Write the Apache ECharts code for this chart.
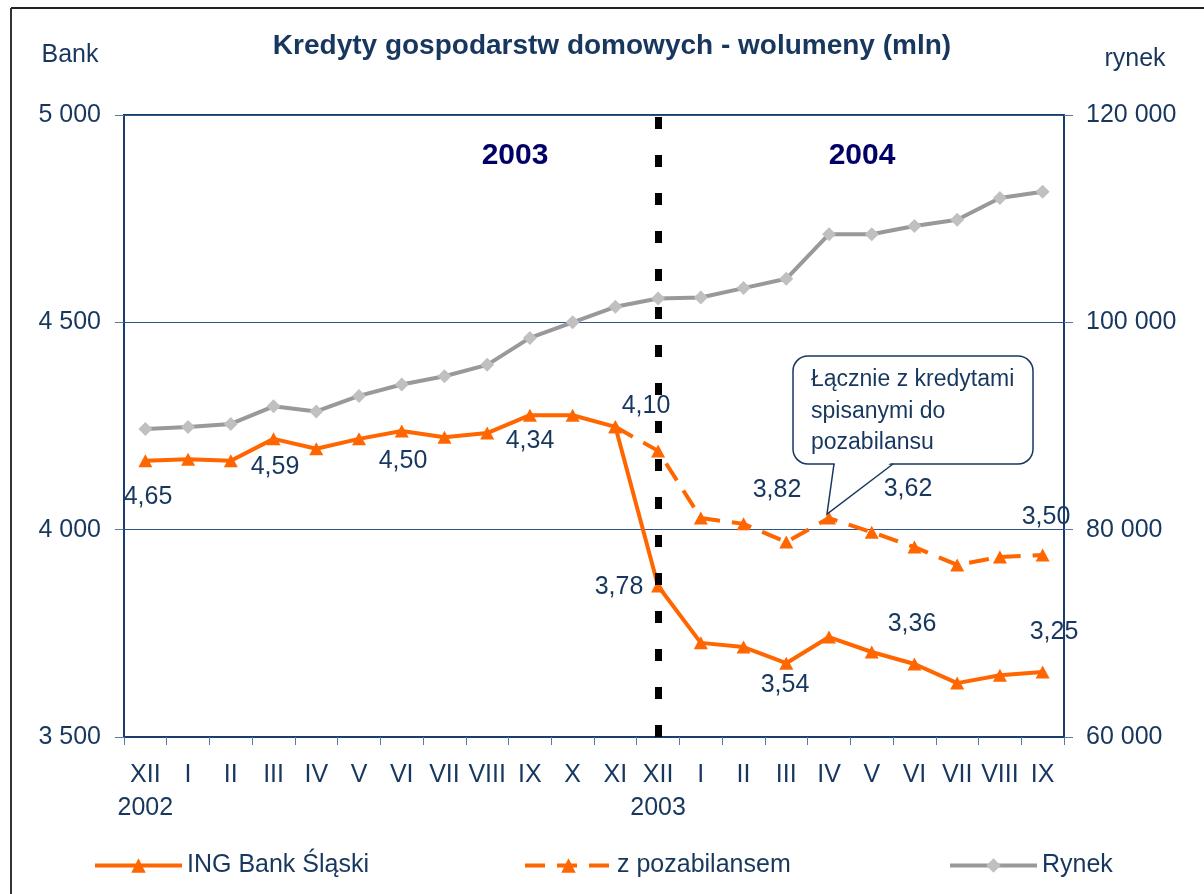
<!DOCTYPE html>
<html>
<head>
<meta charset="utf-8">
<script src="https://cdn.jsdelivr.net/npm/echarts@6/dist/echarts.min.js"></script>
<style>
html, body { margin: 0; padding: 0; background: #fff; }
#chart { width: 1204px; height: 894px; }
</style>
</head>
<body>
<div id="chart"></div>
<script>
// dane
var months = ['XII\n2002', 'I', 'II', 'III', 'IV', 'V', 'VI', 'VII', 'VIII', 'IX', 'X', 'XI',
	'XII\n2003', 'I', 'II', 'III', 'IV', 'V', 'VI', 'VII', 'VIII', 'IX'];
var ingBank = [4166, 4170, 4166, 4219, 4195, 4219, 4238, 4223, 4233, 4276, 4276, 4248,
	3864, 3727, 3717, 3678, 3741, 3705, 3676, 3630, 3649, 3657];
var zPozabilansem = [null, null, null, null, null, null, null, null, null, null, null, 4248,
	4190, 4028, 4014, 3970, 4028, 3994, 3958, 3915, 3934, 3939];
var rynek = [89700, 89900, 90200, 91900, 91400, 92900, 94000, 94800, 95900, 98500, 100000, 101500,
	102300, 102400, 103300, 104200, 108500, 108500, 109300, 109900, 112000, 112600];
var shareLabels = ['4,65', '4,59', '4,50', '4,34', '4,10', '3,78', '3,82', '3,54', '3,62', '3,36', '3,50', '3,25'];
var calloutLines = ['Łącznie z kredytami', 'spisanymi do', 'pozabilansu'];

var navy = '#17375e',
	font = "'Liberation Sans', Arial, sans-serif",
	orange = '#ff6600';

// polozenie etykiet udzialow (px)
var sharePos = [[148, 497], [275, 467], [403, 461], [530, 441], [646, 406], [619, 587],
	[777, 490], [785, 685], [908, 489], [912, 624], [1046, 517], [1054, 632]];

var fmt = function(v){
	return String(v).replace(/\B(?=(\d{3})+(?!\d))/g, ' ');
};

var graphics = [
	{type: 'line', shape: {x1: 11, y1: 8, x2: 1204, y2: 8}, style: {stroke: '#222', lineWidth: 2}},
	{type: 'line', shape: {x1: 11, y1: 8, x2: 11, y2: 894}, style: {stroke: '#333', lineWidth: 2}},
	{type: 'text', x: 612, y: 46, style: {text: 'Kredyty gospodarstw domowych - wolumeny (mln)', fill: navy,
		font: 'bold 28px ' + font, textAlign: 'center', textVerticalAlign: 'middle'}},
	{type: 'text', x: 70, y: 55, style: {text: 'Bank', fill: navy, font: '25px ' + font,
		textAlign: 'center', textVerticalAlign: 'middle'}},
	{type: 'text', x: 1135, y: 59, style: {text: 'rynek', fill: navy, font: '25px ' + font,
		textAlign: 'center', textVerticalAlign: 'middle'}},
	{type: 'text', x: 515, y: 156, style: {text: '2003', fill: '#000066', font: 'bold 30px ' + font,
		textAlign: 'center', textVerticalAlign: 'middle'}},
	{type: 'text', x: 862, y: 156, style: {text: '2004', fill: '#000066', font: 'bold 30px ' + font,
		textAlign: 'center', textVerticalAlign: 'middle'}},
	// dymek
	{type: 'rect', z: 20, shape: {x: 793, y: 356, width: 240, height: 108, r: 15},
		style: {fill: '#fff', stroke: navy, lineWidth: 1.5}},
	{type: 'polygon', z: 20, shape: {points: [[835, 462], [892, 462], [827, 514]]},
		style: {fill: '#fff'}},
	{type: 'polyline', z: 20, shape: {points: [[834, 464], [827, 514], [893, 464]]},
		style: {stroke: navy, lineWidth: 1.5, fill: null}}
];
for(var i = 0; i < calloutLines.length; i++){
	graphics.push({type: 'text', z: 21, x: 811, y: 380 + i * 31.5, style: {text: calloutLines[i], fill: navy,
		font: '23px ' + font, textAlign: 'left', textVerticalAlign: 'middle'}});
}
for(var i = 0; i < shareLabels.length; i++){
	graphics.push({type: 'text', z: 21, x: sharePos[i][0], y: sharePos[i][1], style: {text: shareLabels[i], fill: navy,
		font: '25px ' + font, textAlign: 'center', textVerticalAlign: 'middle'}});
}

var legendItem = function(name, left){
	return {
		data: [name], left: left, top: 848, itemWidth: 87, itemHeight: 18, itemGap: 0,
		lineStyle: {width: 4},
		textStyle: {color: navy, fontSize: 25, fontFamily: font}
	};
};

var option = {
	animation: false,
	backgroundColor: '#fff',
	grid: {left: 124, right: 140, top: 115, bottom: 157, show: true, borderColor: '#1a3d6d', borderWidth: 2},
	legend: [legendItem('ING Bank Śląski', 88), legendItem('z pozabilansem', 518), legendItem('Rynek', 943)],
	xAxis: {
		type: 'category',
		data: months,
		axisLine: {lineStyle: {color: '#1a3d6d', width: 2}},
		axisTick: {show: true, length: 8, lineStyle: {color: '#5a7aa0', width: 1}},
		axisLabel: {interval: 0, margin: 22, color: navy, fontSize: 25, lineHeight: 33, fontFamily: font}
	},
	yAxis: [{
		type: 'value', min: 3500, max: 5000, interval: 500, position: 'left',
		axisLine: {show: true, lineStyle: {color: '#1a3d6d', width: 2}},
		axisTick: {show: true, length: 9, lineStyle: {color: '#5a7aa0'}},
		axisLabel: {margin: 23, color: navy, fontSize: 25, fontFamily: font, formatter: fmt},
		splitLine: {lineStyle: {color: '#2d5585', width: 1}}
	}, {
		type: 'value', min: 60000, max: 120000, interval: 20000, position: 'right',
		axisLine: {show: true, lineStyle: {color: '#1a3d6d', width: 2}},
		axisTick: {show: true, length: 9, lineStyle: {color: '#5a7aa0'}},
		axisLabel: {margin: 22, color: navy, fontSize: 25, fontFamily: font, formatter: fmt},
		splitLine: {show: false}
	}],
	series: [{
		name: 'Rynek', type: 'line', yAxisIndex: 1, data: rynek,
		symbol: 'diamond', symbolSize: 14,
		lineStyle: {color: '#999999', width: 4},
		itemStyle: {color: '#c0c0c0'}
	}, {
		name: 'z pozabilansem', type: 'line', data: zPozabilansem,
		symbol: 'triangle', symbolSize: [14, 13],
		lineStyle: {color: orange, width: 4, type: [20, 12]},
		itemStyle: {color: orange}
	}, {
		name: 'ING Bank Śląski', type: 'line', data: ingBank,
		symbol: 'triangle', symbolSize: [14, 13],
		lineStyle: {color: orange, width: 4},
		itemStyle: {color: orange},
		markLine: {
			silent: true, symbol: ['none', 'none'], label: {show: false},
			lineStyle: {color: '#000', width: 7, type: [12, 26]},
			data: [{xAxis: 12}]
		}
	}],
	graphic: graphics
};

var myChart = echarts.init(document.getElementById('chart'));
myChart.setOption(option);
</script>
</body>
</html>
